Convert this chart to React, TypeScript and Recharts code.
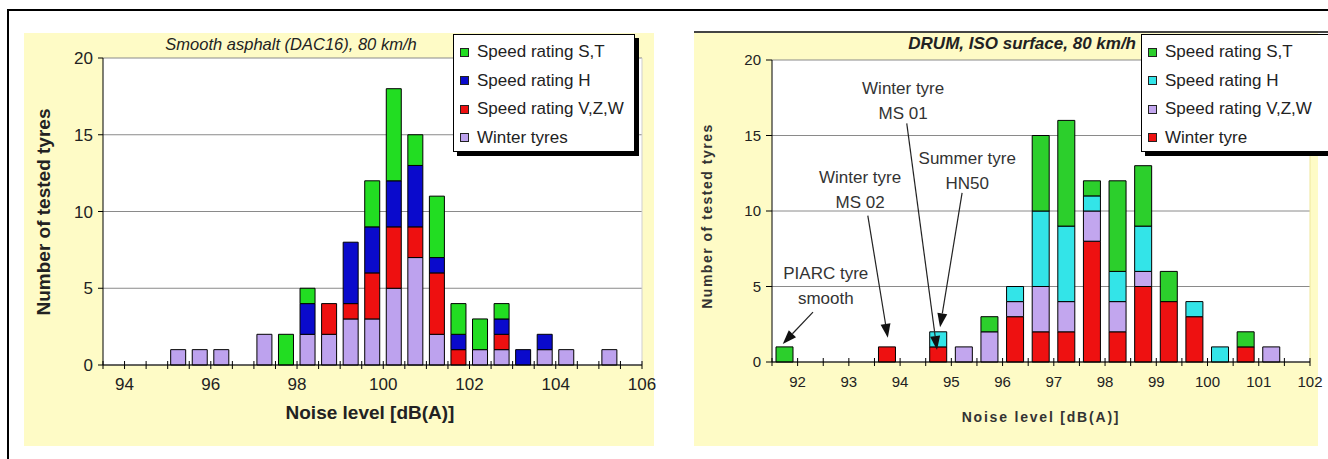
import React from 'react';
import { BarChart, Bar, XAxis, YAxis, CartesianGrid, ReferenceLine, ReferenceDot } from 'recharts';

const FONT = '"Liberation Sans", Arial, Helvetica, sans-serif';

// ---------- Left chart: Smooth asphalt (DAC16), 80 km/h (0.5 dB bins) ----------
const leftBins = [93.75, 94.25, 94.75, 95.25, 95.75, 96.25, 96.75, 97.25, 97.75, 98.25, 98.75, 99.25, 99.75, 100.25, 100.75, 101.25, 101.75, 102.25, 102.75, 103.25, 103.75, 104.25, 104.75, 105.25, 105.75];
const leftWinter = [0, 0, 0, 1, 1, 1, 0, 2, 0, 2, 2, 3, 3, 5, 7, 2, 0, 1, 1, 0, 1, 1, 0, 1, 0];
const leftVZW = [0, 0, 0, 0, 0, 0, 0, 0, 0, 0, 2, 1, 3, 4, 2, 4, 1, 0, 1, 0, 0, 0, 0, 0, 0];
const leftH = [0, 0, 0, 0, 0, 0, 0, 0, 0, 2, 0, 4, 3, 3, 4, 1, 1, 0, 1, 1, 1, 0, 0, 0, 0];
const leftST = [0, 0, 0, 0, 0, 0, 0, 0, 2, 1, 0, 0, 3, 6, 2, 4, 2, 2, 1, 0, 0, 0, 0, 0, 0];
const leftXTicks = [93.5, 94, 94.5, 95, 95.5, 96, 96.5, 97, 97.5, 98, 98.5, 99, 99.5, 100, 100.5, 101, 101.5, 102, 102.5, 103, 103.5, 104, 104.5, 105, 105.5, 106];
const leftXLabels = [94, 96, 98, 100, 102, 104, 106];
const leftYTicks = [0, 5, 10, 15, 20];

// ---------- Right chart: DRUM, ISO surface, 80 km/h ----------
const rightBins = [91.75, 92.25, 92.75, 93.25, 93.75, 94.25, 94.75, 95.25, 95.75, 96.25, 96.75, 97.25, 97.75, 98.25, 98.75, 99.25, 99.75, 100.25, 100.75, 101.25, 101.75];
const rightWinter = [0, 0, 0, 0, 1, 0, 1, 0, 0, 3, 2, 2, 8, 2, 5, 4, 3, 0, 1, 0, 0];
const rightVZW = [0, 0, 0, 0, 0, 0, 0, 1, 2, 1, 3, 2, 2, 2, 1, 0, 0, 0, 0, 1, 0];
const rightH = [0, 0, 0, 0, 0, 0, 1, 0, 0, 1, 5, 5, 1, 2, 3, 0, 1, 1, 0, 0, 0];
const rightST = [1, 0, 0, 0, 0, 0, 0, 0, 1, 0, 5, 7, 1, 6, 4, 2, 0, 0, 1, 0, 0];
const rightXTicks = [91.5, 92, 92.5, 93, 93.5, 94, 94.5, 95, 95.5, 96, 96.5, 97, 97.5, 98, 98.5, 99, 99.5, 100, 100.5, 101, 101.5, 102];
const rightXLabels = [92, 93, 94, 95, 96, 97, 98, 99, 100, 101, 102];
const rightYTicks = [0, 5, 10, 15, 20];
const rightYMinorTicks = [0, 1, 2, 3, 4, 5, 6, 7, 8, 9, 10, 11, 12, 13, 14, 15, 16, 17, 18, 19, 20];

// annotations (data coordinates of the right chart)
const annotationTexts = [
  { lines: ['PIARC tyre', 'smooth'], x: 92.55, y: 5.5 },
  { lines: ['Winter tyre', 'MS 02'], x: 93.22, y: 11.85 },
  { lines: ['Winter tyre', 'MS 01'], x: 94.06, y: 17.75 },
  { lines: ['Summer tyre', 'HN50'], x: 95.31, y: 13.1 },
];
const annotationArrows = [
  { from: { x: 92.3, y: 3.3 }, to: { x: 91.71, y: 1.2 } },
  { from: { x: 93.37, y: 9.7 }, to: { x: 93.76, y: 1.6 } },
  { from: { x: 94.13, y: 15.8 }, to: { x: 94.72, y: 0.8 } },
  { from: { x: 95.21, y: 11.2 }, to: { x: 94.78, y: 2.3 } },
];

const leftSeries = [
  { key: 'winter', name: 'Winter tyres', color: '#BDA2EE' },
  { key: 'vzw', name: 'Speed rating V,Z,W', color: '#EE1010' },
  { key: 'h', name: 'Speed rating H', color: '#0A0ACC' },
  { key: 'st', name: 'Speed rating S,T', color: '#22DD22' },
];
const rightSeries = [
  { key: 'winter', name: 'Winter tyre', color: '#EE1111' },
  { key: 'vzw', name: 'Speed rating V,Z,W', color: '#C2A6EE' },
  { key: 'h', name: 'Speed rating H', color: '#33E4E8' },
  { key: 'st', name: 'Speed rating S,T', color: '#2CCF2C' },
];

const leftData = leftBins.map((x, i) => ({ x, winter: leftWinter[i], vzw: leftVZW[i], h: leftH[i], st: leftST[i] }));
const rightData = rightBins.map((x, i) => ({ x, winter: rightWinter[i], vzw: rightVZW[i], h: rightH[i], st: rightST[i] }));

function makeXTick(labels: number[], fontSize: number) {
  return (props: any) => {
    const { x, y, payload } = props;
    const v = payload.value;
    const show = labels.some((l) => Math.abs(l - v) < 1e-6);
    return (
      <g>
        <line x1={x} x2={x} y1={y - 4} y2={y + 4} stroke="#000" strokeWidth={1} />
        {show && (
          <text x={x} y={y + 25} textAnchor="middle" fontSize={fontSize} fill="#222" fontFamily={FONT}>
            {v}
          </text>
        )}
      </g>
    );
  };
}

const Arrow = (p: any) => {
  const { x1, y1, x2, y2 } = p;
  const dx = x2 - x1;
  const dy = y2 - y1;
  const len = Math.hypot(dx, dy) || 1;
  const ux = dx / len;
  const uy = dy / len;
  const hl = 14;
  const hw = 5;
  const bx = x2 - ux * hl;
  const by = y2 - uy * hl;
  const pts = `${x2},${y2} ${bx - uy * hw},${by + ux * hw} ${bx + uy * hw},${by - ux * hw}`;
  return (
    <g>
      <line x1={x1} y1={y1} x2={bx} y2={by} stroke="#222" strokeWidth={1.2} />
      <polygon points={pts} fill="#111" />
    </g>
  );
};

const makeTextShape = (lines: string[]) => (p: any) => (
  <text x={p.cx} y={p.cy} textAnchor="middle" fontSize={17} fill="#333" fontFamily={FONT}>
    {lines.map((l, i) => (
      <tspan key={i} x={p.cx} dy={i === 0 ? 0 : 25}>
        {l}
      </tspan>
    ))}
  </text>
);

function LegendBox({ items, left, top, width, height }: any) {
  return (
    <div
      style={{
        position: 'absolute',
        left,
        top,
        width,
        height,
        background: '#fff',
        border: '1px solid #000',
        boxShadow: '4px 4px 0 #000',
        fontFamily: FONT,
        fontSize: 17,
        color: '#222',
      }}
    >
      {items.map((s: any, i: number) => (
        <div key={s.key} style={{ position: 'absolute', left: 6, top: 4 + i * 28.5, height: 26, display: 'flex', alignItems: 'center', whiteSpace: 'nowrap' }}>
          <span style={{ display: 'inline-block', width: 7, height: 7, background: s.color, border: '1px solid #222', marginRight: 8 }} />
          <span>{s.name}</span>
        </div>
      ))}
    </div>
  );
}

export default function App() {
  const abs = (o: any) => ({ position: 'absolute' as const, ...o });
  return (
    <div style={{ position: 'absolute', left: 0, top: 0, width: 1328, height: 459, background: '#fff', overflow: 'hidden', fontFamily: FONT }}>
      {/* frame */}
      <div style={abs({ left: 8, top: 9, width: 1320, height: 2, background: '#000' })} />
      <div style={abs({ left: 7, top: 9, width: 2, height: 450, background: '#000' })} />

      {/* panels */}
      <div style={abs({ left: 24, top: 33, width: 630, height: 413, background: '#FEFBC6' })} />
      <div style={abs({ left: 694, top: 32, width: 624, height: 414, background: '#FEFBC6' })} />
      <div style={abs({ left: 694, top: 31, width: 634, height: 2, background: '#444' })} />

      {/* left chart */}
      <div style={abs({ left: 0, top: 0 })}>
        <BarChart width={660} height={459} data={leftData} margin={{ top: 58, right: 18, bottom: 0, left: 0 }} barSize={15}>
          <CartesianGrid vertical={false} stroke="#8a8a8a" fill="#fff" />
          <XAxis
            dataKey="x"
            type="number"
            domain={[93.5, 106]}
            ticks={leftXTicks}
            interval={0}
            tickLine={false}
            tickSize={0}
            tickMargin={0}
            height={94}
            axisLine={{ stroke: '#000' }}
            tick={makeXTick(leftXLabels, 17)}
          />
          <YAxis
            domain={[0, 20]}
            ticks={leftYTicks}
            interval={0}
            width={103}
            tickSize={5}
            tickMargin={5}
            axisLine={{ stroke: '#000' }}
            tickLine={{ stroke: '#000' }}
            tick={{ fontSize: 17, fill: '#222', fontFamily: FONT }}
          />
          <ReferenceLine x={106} stroke="#cfcfcf" />
          {leftSeries.map((s) => (
            <Bar key={s.key} dataKey={s.key} stackId="a" fill={s.color} stroke="#000" strokeWidth={1} isAnimationActive={false} />
          ))}
        </BarChart>
      </div>

      {/* right chart */}
      <div style={abs({ left: 664, top: 0 })}>
        <BarChart width={664} height={459} data={rightData} margin={{ top: 60, right: 18, bottom: 0, left: 0 }} barSize={17}>
          <CartesianGrid vertical={false} stroke="#8a8a8a" fill="#fff" />
          <XAxis
            dataKey="x"
            type="number"
            domain={[91.5, 102]}
            ticks={rightXTicks}
            interval={0}
            tickLine={false}
            tickSize={0}
            tickMargin={0}
            height={97}
            axisLine={{ stroke: '#000' }}
            tick={makeXTick(rightXLabels, 15)}
          />
          <YAxis
            domain={[0, 20]}
            ticks={rightYTicks}
            interval={0}
            width={108}
            tickSize={6}
            tickMargin={5}
            axisLine={{ stroke: '#000' }}
            tickLine={{ stroke: '#000' }}
            tick={{ fontSize: 15, fill: '#222', fontFamily: FONT }}
          />
          <YAxis
            yAxisId="minor"
            domain={[0, 20]}
            ticks={rightYMinorTicks}
            interval={0}
            width={0}
            mirror
            tick={false}
            tickSize={4}
            axisLine={false}
            tickLine={{ stroke: '#000' }}
          />
          <ReferenceLine x={102} stroke="#eee79a" />
          {rightSeries.map((s) => (
            <Bar key={s.key} dataKey={s.key} stackId="a" fill={s.color} stroke="#000" strokeWidth={1} isAnimationActive={false} />
          ))}
          {annotationArrows.map((a, i) => (
            <ReferenceLine key={'arr' + i} segment={[a.from, a.to]} shape={Arrow} ifOverflow="visible" />
          ))}
          {annotationTexts.map((t, i) => (
            <ReferenceDot key={'txt' + i} x={t.x} y={t.y} r={0} shape={makeTextShape(t.lines)} ifOverflow="visible" />
          ))}
        </BarChart>
      </div>

      {/* titles */}
      <div style={abs({ left: 120, top: 35, width: 342, textAlign: 'center', fontStyle: 'italic', fontSize: 16.5, color: '#222', whiteSpace: 'nowrap' })}>
        Smooth asphalt (DAC16), 80 km/h
      </div>
      <div style={abs({ left: 836, top: 34, width: 300, textAlign: 'right', fontStyle: 'italic', fontWeight: 'bold', fontSize: 17, color: '#222', whiteSpace: 'nowrap' })}>
        DRUM, ISO surface, 80 km/h
      </div>

      {/* axis titles */}
      <div style={abs({ left: 45 - 150, top: 212 - 12, width: 300, height: 24, textAlign: 'center', transform: 'rotate(-90deg)', fontWeight: 'bold', fontSize: 19, color: '#222', whiteSpace: 'nowrap' })}>
        Number of tested tyres
      </div>
      <div style={abs({ left: 370 - 150, top: 402, width: 300, textAlign: 'center', fontWeight: 'bold', fontSize: 19, color: '#222', whiteSpace: 'nowrap' })}>
        Noise level [dB(A)]
      </div>
      <div style={abs({ left: 709 - 150, top: 216 - 10, width: 300, height: 20, textAlign: 'center', transform: 'rotate(-90deg)', fontWeight: 'bold', fontSize: 14, letterSpacing: 1.5, color: '#333', whiteSpace: 'nowrap' })}>
        Number of tested tyres
      </div>
      <div style={abs({ left: 1041 - 150, top: 409, width: 300, textAlign: 'center', fontWeight: 'bold', fontSize: 14, letterSpacing: 1.8, color: '#333', whiteSpace: 'nowrap' })}>
        Noise level [dB(A)]
      </div>

      {/* legends */}
      <LegendBox items={[...leftSeries].reverse()} left={453} top={34} width={180} height={116} />
      <LegendBox items={[...rightSeries].reverse()} left={1141} top={34} width={200} height={116} />
    </div>
  );
}
